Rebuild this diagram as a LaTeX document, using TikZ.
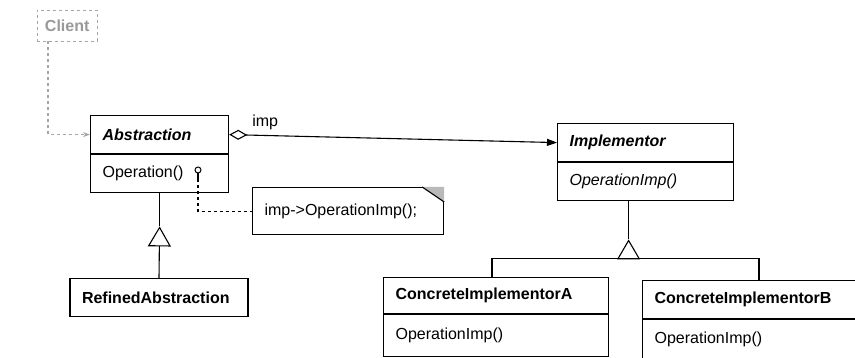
\documentclass[tikz,border=0pt]{standalone}
\usepackage{fontspec}
\setmainfont{Liberation Sans}
\usetikzlibrary{arrows.meta,positioning,calc}
\newcommand{\umlsize}{\fontsize{16}{19}\selectfont}
\tikzset{
  classhead/.style={draw, line width=1.2pt, minimum height=38pt, inner xsep=12pt, text width=#1, align=left, anchor=north west, font=\umlsize\bfseries},
  abshead/.style={classhead=#1, font=\umlsize\bfseries\itshape},
  classbody/.style={draw, line width=1.2pt, minimum height=38pt, inner xsep=12pt, text width=#1, align=left},
  memo/.style={draw, line width=1.2pt, minimum height=47pt, inner xsep=12pt, text width=#1, align=left, anchor=north west},
  clientbox/.style={draw=gray!70, dashed, minimum width=60pt, minimum height=31pt, anchor=north west, text=gray!80, font=\umlsize\bfseries},
  line/.style={line width=1.1pt},
  genline/.style={line width=1.1pt, -{Triangle[open, length=20pt, width=23pt, line width=1.1pt]}},
  aggline/.style={line width=1.1pt, {Diamond[open, length=18pt, width=10pt, line width=1.1pt]}-{Triangle[length=10pt, width=7pt]}},
  dashedline/.style={line width=1.1pt, dashed}
}

\begin{document}
\begin{tikzpicture}[x=1pt, y=-1pt, font=\umlsize]
  \useasboundingbox (0,0) rectangle (855,358);

  \node[clientbox] (client) at (37,10) {Client};

  \node[abshead=114pt] (abs) at (90,115) {Abstraction};
  \node[classbody=114pt, below=0pt of abs] (absops) {Operation()};
  \node[classhead=154pt, anchor=north] (refined) at (159,278) {RefinedAbstraction};

  \node[abshead=152pt] (impl) at (557,123) {Implementor};
  \node[classbody=152pt, below=0pt of impl, font=\umlsize\itshape] (implops) {OperationImp()};
  \node[classhead=201pt, minimum height=36pt] (conA) at (383,277) {ConcreteImplementorA};
  \node[classbody=201pt, minimum height=42pt, below=0pt of conA] (conAops) {OperationImp()};
  \node[classhead=196pt] (conB) at (642,280) {ConcreteImplementorB};
  \node[classbody=196pt, minimum height=40pt, below=0pt of conB] (conBops) {OperationImp()};

  \node[memo=167pt] (note) at (252,187) {imp->OperationImp();};
  \node[draw, circle, line width=1pt, inner sep=0pt, minimum size=6pt] (pin) at (198,170) {};

  \coordinate (absapex) at ($(absops.south)+(0,33)$);
  \coordinate (implapex) at ($(implops.south)+(-17,38)$);
  \coordinate (fork) at ($(implapex)+(0,19)$);
  \coordinate (pinfoot) at ($(pin.south)+(0,6)$);
  \coordinate (clientfoot) at ($(client.south west)+(11,0)$);

  \fill[gray!55] ($(note.north east)+(-22,0)$) -- (note.north east) -- ($(note.north east)+(0,15)$) -- cycle;
  \draw[line] ($(note.north east)+(-22,0)$) -- ($(note.north east)+(0,15)$);

  \draw[dashedline, draw=gray!70, -{Stealth[length=7pt, width=5pt]}] (clientfoot) |- (abs.west);
  \draw[aggline] (abs.east) -- node[pos=0.11, above=2pt]{imp} (impl.west);
  \draw[line] (absops.south) -- (absapex);
  \draw[genline] (refined.north) -- (absapex);
  \draw[line] (implops.south -| implapex) -- (implapex);
  \draw[genline] (fork) -- (implapex);
  \draw[line] (conA.north -| 492,0) |- (fork) -| (conB.north -| 759,0);
  \draw[line] (pin.south) -- (pinfoot);
  \draw[dashedline] (pinfoot) |- (note.west);
\end{tikzpicture}
\end{document}
